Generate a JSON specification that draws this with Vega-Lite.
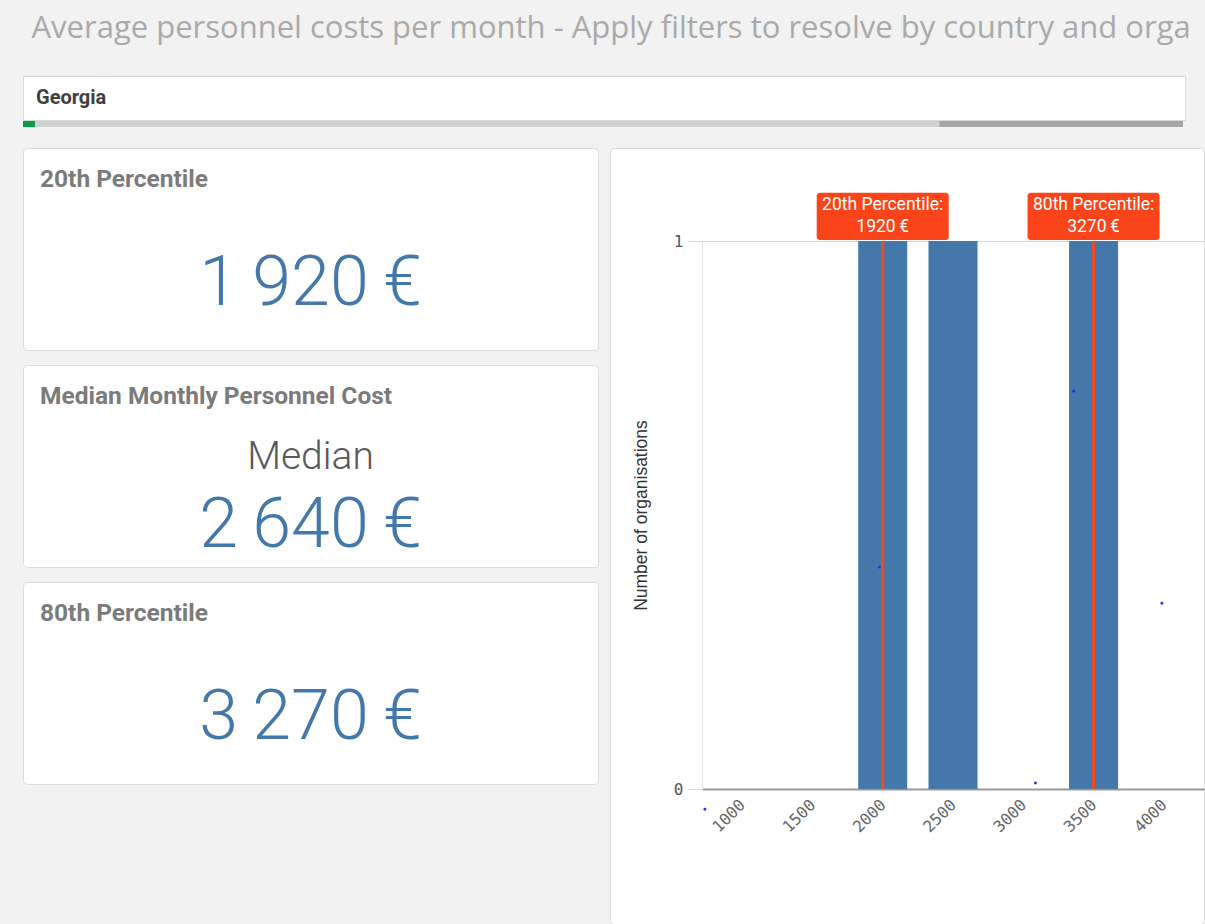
{
  "$schema": "https://vega.github.io/schema/vega-lite/v6.json",
  "background": "#f2f2f2",
  "padding": {"left": 22, "top": 12, "right": 0, "bottom": 0},
  "autosize": {"type": "pad"},
  "title": {"text": "Average personnel costs per month - Apply filters to resolve by country and orga", "anchor": "start", "font": "Open Sans", "fontSize": 31, "fontWeight": "normal", "color": "#aaaaaa", "dx": 9, "offset": 31, "limit": 1174},
  "config": {
    "locale": {"number": {"decimal": ",", "thousands": "\u2009", "grouping": [3], "currency": ["", "\u2009€"]}},
    "view": {"stroke": null},
    "title": {"anchor": "start"},
    "style": {"group-title": {"ellipsis": ""}}
  },
  "datasets": {
    "bins": [
      {"bin": 1000, "count": 0},
      {"bin": 1500, "count": 0},
      {"bin": 2000, "count": 1},
      {"bin": 2500, "count": 1},
      {"bin": 3000, "count": 0},
      {"bin": 3500, "count": 1},
      {"bin": 4000, "count": 0}
    ],
    "stats": [
      {"stat": "20th Percentile", "value": 1920, "bin": 2000},
      {"stat": "Median", "value": 2640},
      {"stat": "80th Percentile", "value": 3270, "bin": 3500}
    ],
    "dots": [
      {"cost": 1977, "n": 0.405},
      {"cost": 3358, "n": 0.726},
      {"cost": 3086, "n": 0.011},
      {"cost": 3986, "n": 0.339},
      {"cost": 735, "n": -0.037}
    ],
    "filter": [{"country": "Georgia"}]
  },
  "spacing": 20,
  "vconcat": [
    {
      "spacing": 0,
      "vconcat": [
        {
          "width": 1162, "height": 44,
          "view": {"fill": "white", "stroke": "#d9d9d9"},
          "data": {"name": "filter"},
          "mark": {"type": "text", "align": "left", "baseline": "middle", "dx": 13, "font": "Roboto", "fontSize": 20, "fontWeight": "bold", "color": "#404040"},
          "encoding": {
            "x": {"datum": 0, "type": "quantitative", "scale": {"domain": [0, 1]}, "axis": null},
            "text": {"field": "country", "type": "nominal"}
          }
        },
        {
          "width": 1160, "height": 6,
          "view": {"fill": "#d0d0d0", "stroke": null},
          "data": {"name": "filter"},
          "layer": [
            {"mark": {"type": "rect", "color": "#a6a6a6"},
             "encoding": {
               "x": {"datum": 0.79, "type": "quantitative", "scale": {"domain": [0, 1]}, "axis": null}, "x2": {"datum": 1},
               "y": {"datum": 0, "type": "quantitative", "scale": {"domain": [0, 1]}, "axis": null}, "y2": {"datum": 1}}},
            {"mark": {"type": "rect", "color": "#0a9a4a"},
             "encoding": {
               "x": {"datum": 0, "type": "quantitative", "scale": {"domain": [0, 1]}, "axis": null}, "x2": {"datum": 0.0103},
               "y": {"datum": 0, "type": "quantitative", "scale": {"domain": [0, 1]}, "axis": null}, "y2": {"datum": 1}}}
          ]
        }
      ]
    },
    {
      "spacing": 10,
      "hconcat": [
        {
          "spacing": 13,
          "vconcat": [
            {
              "width": 575, "height": 202,
              "view": {"fill": "white", "stroke": "#dcdcdc", "cornerRadius": 4},
              "title": {"text": "20th Percentile", "font": "Roboto", "fontSize": 24.5, "fontWeight": "bold", "color": "#7b7b7b", "dx": 17, "offset": -44},
              "data": {"name": "stats"},
              "transform": [{"filter": "datum.stat == '20th Percentile'"}],
              "mark": {"type": "text", "font": "Roboto", "fontWeight": 300, "fontSize": 70, "color": "#4477aa", "dy": 35, "baseline": "middle"},
              "encoding": {"text": {"field": "value", "type": "quantitative", "format": "$,.0f"}}
            },
            {
              "width": 575, "height": 202,
              "view": {"fill": "white", "stroke": "#dcdcdc", "cornerRadius": 4},
              "title": {"text": "Median Monthly Personnel Cost", "font": "Roboto", "fontSize": 24.5, "fontWeight": "bold", "color": "#7b7b7b", "dx": 17, "offset": -44},
              "data": {"name": "stats"},
              "transform": [{"filter": "datum.stat == 'Median'"}],
              "layer": [
                {"mark": {"type": "text", "font": "Roboto", "fontWeight": 300, "fontSize": 39, "color": "#595959", "dy": -9, "baseline": "middle"},
                 "encoding": {"text": {"field": "stat", "type": "nominal"}}},
                {"mark": {"type": "text", "font": "Roboto", "fontWeight": 300, "fontSize": 70, "color": "#4477aa", "dy": 60, "baseline": "middle"},
                 "encoding": {"text": {"field": "value", "type": "quantitative", "format": "$,.0f"}}}
              ]
            },
            {
              "width": 575, "height": 202,
              "view": {"fill": "white", "stroke": "#dcdcdc", "cornerRadius": 4},
              "title": {"text": "80th Percentile", "font": "Roboto", "fontSize": 24.5, "fontWeight": "bold", "color": "#7b7b7b", "dx": 17, "offset": -44},
              "data": {"name": "stats"},
              "transform": [{"filter": "datum.stat == '80th Percentile'"}],
              "mark": {"type": "text", "font": "Roboto", "fontWeight": 300, "fontSize": 70, "color": "#4477aa", "dy": 34.5, "baseline": "middle"},
              "encoding": {"text": {"field": "value", "type": "quantitative", "format": "$,.0f"}}
            }
          ]
        },
        {
          "width": 594, "height": 776,
          "view": {"fill": "white", "stroke": "#dcdcdc", "cornerRadius": 4},
          "layer": [
            {
              "data": {"name": "bins"},
              "mark": {"type": "bar", "width": 49, "color": "#4477aa"},
              "encoding": {
                "x": {"field": "bin", "type": "quantitative",
                      "scale": {"domain": [750, 4250], "range": [92, 594], "nice": false, "zero": false},
                      "axis": {"orient": "bottom", "offset": -135, "values": [1000, 1500, 2000, 2500, 3000, 3500, 4000], "format": "d", "labelAngle": -45, "labelAlign": "right", "labelBaseline": "middle", "labelFont": "DejaVu Sans Mono", "labelFontSize": 16, "labelColor": "#666666", "ticks": false, "grid": false, "domainColor": "#9a9a9a", "domainWidth": 2, "title": null, "labelPadding": 13}},
                "y": {"field": "count", "type": "quantitative",
                      "scale": {"domain": [0, 1], "range": [641, 93], "nice": false},
                      "axis": {"offset": -92, "values": [0, 1], "format": "d", "labelFont": "DejaVu Sans Mono", "labelFontSize": 16, "labelColor": "#555555", "tickSize": 14, "tickColor": "#d9d9d9", "domainColor": "#e3e3e3", "grid": true, "gridColor": "#d9d9d9", "title": "Number of organisations", "titleFont": "Liberation Sans", "titleFontSize": 17.5, "titleFontWeight": "normal", "titleColor": "#333333", "titlePadding": 23, "labelPadding": 5}}
              }
            },
            {
              "data": {"name": "stats"},
              "transform": [{"filter": "isValid(datum.bin)"}],
              "mark": {"type": "rule", "color": "#f04a22", "strokeWidth": 3},
              "encoding": {
                "x": {"field": "bin", "type": "quantitative"},
                "y": {"datum": 0, "type": "quantitative"},
                "y2": {"datum": 1}
              }
            },
            {
              "data": {"name": "stats"},
              "transform": [{"filter": "isValid(datum.bin)"}],
              "mark": {"type": "bar", "width": 132, "color": "#fb4419", "cornerRadius": 3},
              "encoding": {
                "x": {"field": "bin", "type": "quantitative"},
                "y": {"datum": 1.002, "type": "quantitative"},
                "y2": {"datum": 1.088}
              }
            },
            {
              "data": {"name": "stats"},
              "transform": [{"filter": "isValid(datum.bin)"}],
              "mark": {"type": "text", "font": "Roboto", "fontSize": 17.5, "color": "white", "dy": -11, "baseline": "middle", "text": {"expr": "datum.stat + ':'"}},
              "encoding": {
                "x": {"field": "bin", "type": "quantitative"},
                "y": {"datum": 1.045, "type": "quantitative"}
              }
            },
            {
              "data": {"name": "stats"},
              "transform": [{"filter": "isValid(datum.bin)"}],
              "mark": {"type": "text", "font": "Roboto", "fontSize": 17.5, "color": "white", "dy": 11, "baseline": "middle"},
              "encoding": {
                "x": {"field": "bin", "type": "quantitative"},
                "y": {"datum": 1.045, "type": "quantitative"},
                "text": {"field": "value", "type": "quantitative", "format": "$.0f"}
              }
            },
            {
              "data": {"name": "dots"},
              "mark": {"type": "point", "filled": true, "size": 8, "color": "#2b2bf0", "opacity": 1},
              "encoding": {
                "x": {"field": "cost", "type": "quantitative"},
                "y": {"field": "n", "type": "quantitative"}
              }
            }
          ]
        }
      ]
    }
  ]
}
